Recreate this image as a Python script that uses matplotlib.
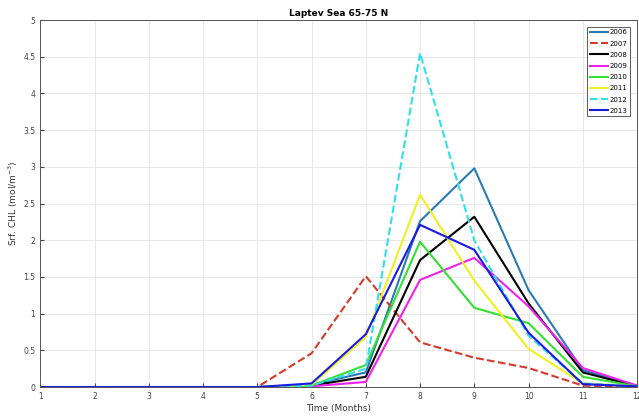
import numpy as np
import matplotlib
matplotlib.use('Agg')
import matplotlib.pyplot as plt

months = np.arange(1, 13)

chl_2006 = [0, 0, 0, 0, 0, 0.03, 0.20, 2.26, 2.98, 1.32, 0.23, 0.02]
chl_2007 = [0, 0, 0, 0, 0, 0.46, 1.51, 0.61, 0.40, 0.26, 0.02, 0]
chl_2008 = [0, 0, 0, 0, 0, 0.02, 0.14, 1.73, 2.32, 1.14, 0.20, 0.01]
chl_2009 = [0, 0, 0, 0, 0, 0.01, 0.07, 1.46, 1.76, 1.10, 0.26, 0.02]
chl_2010 = [0, 0, 0, 0, 0, 0.02, 0.30, 1.98, 1.08, 0.87, 0.14, 0.01]
chl_2011 = [0, 0, 0, 0, 0, 0.03, 0.68, 2.62, 1.45, 0.52, 0.05, 0.01]
chl_2012 = [0, 0, 0, 0, 0, 0.02, 0.25, 4.55, 2.00, 0.70, 0.05, 0.01]
chl_2013 = [0, 0, 0, 0, 0, 0.05, 0.72, 2.21, 1.87, 0.74, 0.04, 0.01]

years = ['2006', '2007', '2008', '2009', '2010', '2011', '2012', '2013']
series = [chl_2006, chl_2007, chl_2008, chl_2009, chl_2010, chl_2011, chl_2012, chl_2013]
colors = ['#2a7ab4', '#d43a2a', 'black', '#ee22ee', '#33e033', '#f0f020', '#30e0e8', '#1a1ae0']
styles = ['-', '--', '-', '-', '-', '-', '--', '-']

fig = plt.figure(figsize=(6.39, 4.18), dpi=100)
ax = fig.add_axes([0.063, 0.074, 0.934, 0.878])

for yr, vals, c, ls in zip(years, series, colors, styles):
    ax.plot(months, vals, color=c, linestyle=ls, linewidth=1.5, label=yr)

ax.set_xlim(1, 12)
ax.set_ylim(0, 5)
ax.set_xticks(months)
ax.set_yticks(np.arange(0, 5.01, 0.5))
ax.set_yticklabels(['0', '0.5', '1', '1.5', '2', '2.5', '3', '3.5', '4', '4.5', '5'])
ax.tick_params(direction='in', labelsize=5.5, colors='#444444', length=3)
ax.grid(True, color='#e4e4e4', linewidth=0.6)
for s in ax.spines.values():
    s.set_color('#555555')
    s.set_linewidth(0.7)

ax.set_title('Laptev Sea 65-75 N', fontsize=6.5, fontweight='bold', pad=3)
ax.set_xlabel('Time (Months)', fontsize=6.5, color='#333333', labelpad=2)
ax.set_ylabel('Srf. CHL (mol/m$^{-3}$)', fontsize=6.5, color='#333333', labelpad=2)

leg = ax.legend(loc='upper right', fontsize=5, handlelength=2.6, labelspacing=0.75,
                handletextpad=0.3, fancybox=False, framealpha=1, borderpad=0.35,
                borderaxespad=1.0)
leg.get_frame().set_edgecolor('#444444')
leg.get_frame().set_linewidth(0.6)

fig.savefig('out.png', dpi=100)
